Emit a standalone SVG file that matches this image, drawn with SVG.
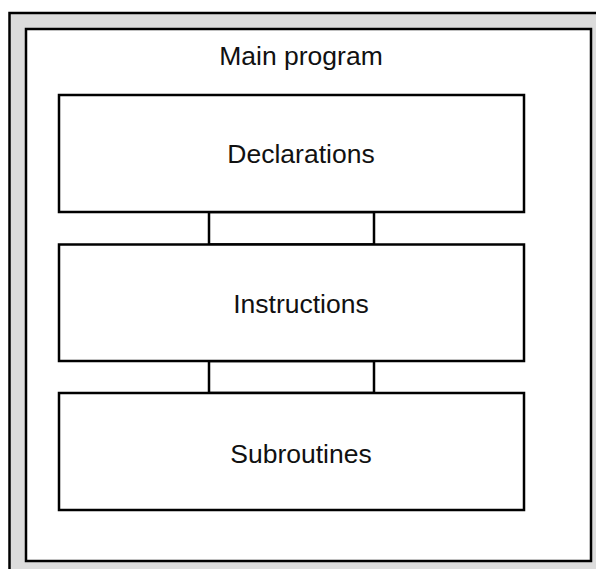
<svg xmlns="http://www.w3.org/2000/svg" width="596" height="569" viewBox="0 0 596 569">
<style>
.box{fill:#fff;stroke:#000;stroke-width:2.5}
.lbl{font-family:"Liberation Sans",Arial,sans-serif;font-size:26.5px;fill:#111;text-anchor:middle}
</style>
<rect x="0" y="0" width="596" height="569" fill="#fff"/>
<g id="frame">
<rect x="9.5" y="13" width="600" height="600" fill="#dcdcdc" stroke="#000" stroke-width="2.5"/>
<rect id="main" x="26" y="29" width="565" height="532" class="box"/>
<text class="lbl" x="301" y="65">Main program</text>
</g>
<g id="connectors">
<rect x="209" y="212" width="165" height="32.5" class="box"/>
<rect x="209" y="361" width="165" height="32" class="box"/>
</g>
<g id="declarations">
<rect x="59" y="95" width="465" height="117" class="box"/>
<text class="lbl" x="301" y="163">Declarations</text>
</g>
<g id="instructions">
<rect x="59" y="244.5" width="465" height="116.5" class="box"/>
<text class="lbl" x="301" y="313">Instructions</text>
</g>
<g id="subroutines">
<rect x="59" y="393" width="465" height="117" class="box"/>
<text class="lbl" x="301" y="463">Subroutines</text>
</g>
</svg>
